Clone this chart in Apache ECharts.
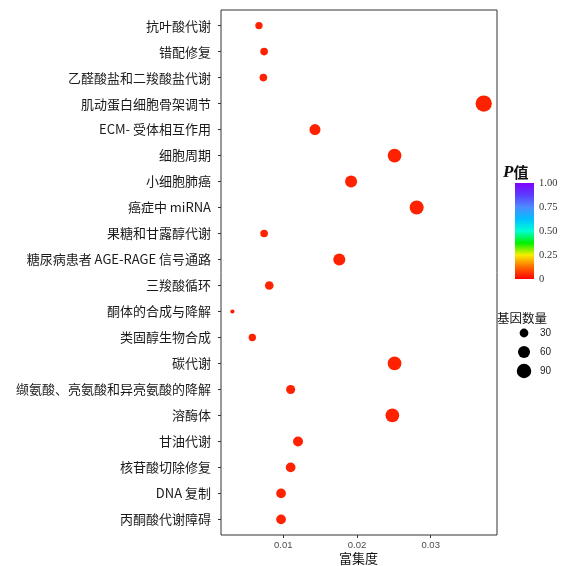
<!DOCTYPE html>
<html><head><meta charset="utf-8">
<script src="https://cdn.jsdelivr.net/npm/echarts@6/dist/echarts.min.js"></script>
<style>html,body{margin:0;padding:0;background:#fff}#c{width:568px;height:566px}</style>
</head><body><div id="c"></div>
<script>
const categories = ['抗叶酸代谢','错配修复','乙醛酸盐和二羧酸盐代谢','肌动蛋白细胞骨架调节','ECM- 受体相互作用','细胞周期','小细胞肺癌','癌症中 miRNA','果糖和甘露醇代谢','糖尿病患者 AGE-RAGE 信号通路','三羧酸循环','酮体的合成与降解','类固醇生物合成','碳代谢','缬氨酸、亮氨酸和异亮氨酸的降解','溶酶体','甘油代谢','核苷酸切除修复','DNA 复制','丙酮酸代谢障碍'];
const richFactor = [0.0067,0.0074,0.0073,0.0372,0.0143,0.0251,0.0192,0.0281,0.0074,0.0176,0.0081,0.0031,0.0058,0.0251,0.0110,0.0248,0.0120,0.0110,0.0097,0.0097];
const geneCount = [20,22,22,116,50,80,60,84,22,60,29,5,20,80,32,80,40,38,38,38];
const pValue = [0.04,0.04,0.04,0.04,0.04,0.04,0.04,0.04,0.04,0.04,0.04,0.03,0.04,0.04,0.04,0.04,0.04,0.04,0.04,0.04];
const xTicks = [0.01,0.02,0.03];
const pTicks = [0,0.25,0.5,0.75,1];
const sizeLegend = [30,60,90];
const rainbow = ['#ff0000','#ff6a00','#f7ef00','#00f000','#00ffd5','#00bfff','#4d8cff','#5a3cff','#8000ff'];

const sizeFn = v => 1 + 1.42*Math.sqrt(v);
const pts = categories.map((c,i)=>[richFactor[i], i, geneCount[i], pValue[i]]);
const cjk = "'Noto Sans CJK SC', 'Noto Sans', sans-serif";

const chart = echarts.init(document.getElementById('c'));
chart.setOption({
  animation:false,
  title:[
    {left:498, top:159, text:'{p|P}{z|值}', textStyle:{rich:{
      p:{fontFamily:"'Liberation Serif', serif", fontStyle:'italic', fontWeight:'bold', fontSize:17, color:'#111'},
      z:{fontFamily:cjk, fontSize:15, color:'#111'}}}},
    {left:492, top:307, text:'基因数量', textStyle:{fontFamily:cjk, fontSize:12.5, fontWeight:'normal', color:'#111'}},
    {left:334, top:547, text:'富集度', textStyle:{fontFamily:cjk, fontSize:13, fontWeight:'normal', color:'#111'}}
  ],
  grid:[
    {left:221, top:10, width:276, height:525, show:true, borderColor:'#333', borderWidth:1, backgroundColor:'#fff', containLabel:false, outerBoundsMode:'none'},
    {left:515, top:183, width:19, height:96, containLabel:false, outerBoundsMode:'none'},
    {left:514, top:323.5, width:20, height:57, containLabel:false, outerBoundsMode:'none'}
  ],
  xAxis:[
    {gridIndex:0, type:'value', min:0.00155, max:0.039, splitLine:{show:false}, position:'bottom',
     axisLine:{show:false, onZero:false}, axisTick:{show:true, length:3, lineStyle:{color:'#333'}, customValues:xTicks},
     axisLabel:{customValues:xTicks, formatter:v=>v.toFixed(2), fontSize:9.5, color:'#4d4d4d', margin:5, fontFamily:"'Liberation Sans', Arial, sans-serif"}},
    {gridIndex:1, type:'category', data:['p'], show:false},
    {gridIndex:2, type:'value', min:0, max:1, show:false}
  ],
  yAxis:[
    {gridIndex:0, type:'value', min:-0.6, max:19.6, inverse:true, splitLine:{show:false},
     axisLine:{show:false, onZero:false}, axisTick:{show:true, length:3, lineStyle:{color:'#333'}, customValues:categories.map((c,i)=>i)},
     axisLabel:{customValues:categories.map((c,i)=>i), formatter:v=>categories[Math.round(v)], fontSize:13, color:'#1a1a1a', margin:10, fontFamily:cjk}},
    {gridIndex:1, type:'value', min:0, max:1, position:'right', splitLine:{show:false},
     axisLine:{show:false}, axisTick:{show:true, inside:true, length:3, lineStyle:{color:'#fff'}, customValues:pTicks},
     axisLabel:{customValues:pTicks, formatter:v=>v===0?'0':v.toFixed(2), fontSize:10.5, color:'#333', margin:5, fontFamily:"'Liberation Serif', serif"}},
    {gridIndex:2, type:'category', data:sizeLegend.map(String), inverse:true, position:'right',
     axisLine:{show:false}, axisTick:{show:false}, splitLine:{show:false},
     axisLabel:{fontSize:10, color:'#222', margin:6, fontFamily:"'Liberation Sans', Arial, sans-serif"}}
  ],
  visualMap:{type:'continuous', show:false, min:0, max:1, dimension:3, seriesIndex:0, inRange:{color:rainbow}},
  series:[
    {type:'scatter', xAxisIndex:0, yAxisIndex:0, data:pts, symbolSize:d=>sizeFn(d[2]), itemStyle:{opacity:1}},
    {type:'bar', xAxisIndex:1, yAxisIndex:1, data:[1], barWidth:'100%', silent:true,
     itemStyle:{color:new echarts.graphic.LinearGradient(0,1,0,0, rainbow.map((c,i)=>({offset:i/(rainbow.length-1), color:c})))}},
    {type:'scatter', xAxisIndex:2, yAxisIndex:2, data:sizeLegend.map((v,i)=>[0.5, i, v]), symbolSize:d=>sizeFn(d[2]), itemStyle:{color:'#000', opacity:1}}
  ]
});
</script></body></html>
